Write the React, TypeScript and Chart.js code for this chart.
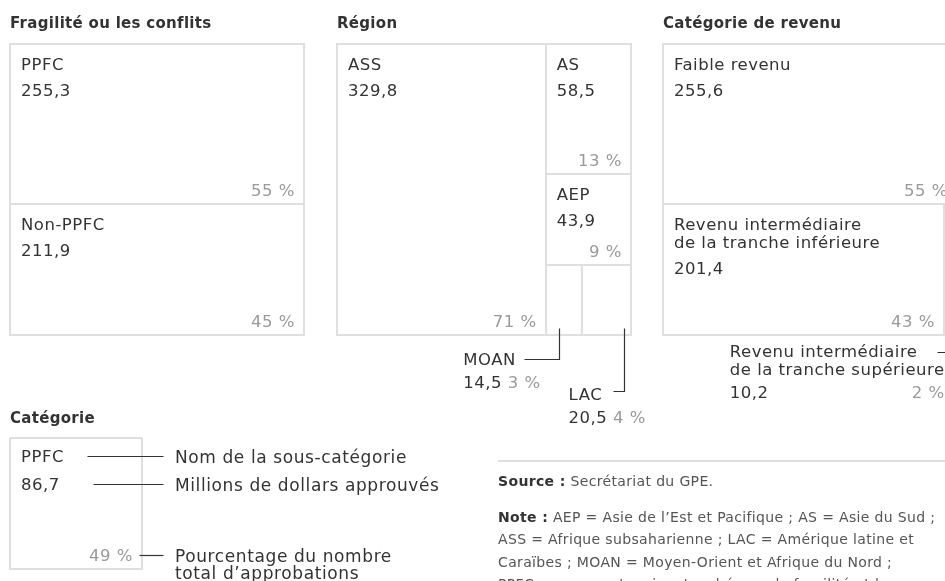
import React, { useEffect, useRef } from "react";
import { Chart, registerables } from "chart.js";

Chart.register(...registerables);

// ---------- data ----------
const PANEL_TITLES = ["Fragilité ou les conflits", "Région", "Catégorie de revenu"];

const FRAG_LABELS = ["PPFC", "Non-PPFC"];
const FRAG_AMOUNTS = [255.3, 211.9];
const FRAG_SHARES = [55, 45];

const REGION_LABELS = ["ASS", "AS", "AEP", "MOAN", "LAC"];
const REGION_AMOUNTS = [329.8, 58.5, 43.9, 14.5, 20.5];
const REGION_SHARES = [71, 13, 9, 3, 4];

const INCOME_LABELS = [
  "Faible revenu",
  "Revenu intermédiaire\nde la tranche inférieure",
  "Revenu intermédiaire\nde la tranche supérieure",
];
const INCOME_AMOUNTS = [255.6, 201.4, 10.2];
const INCOME_SHARES = [55, 43, 2];

const KEY_TITLE = "Catégorie";
const KEY_LABEL = "PPFC";
const KEY_AMOUNT = 86.7;
const KEY_SHARE = 49;
const KEY_TEXTS = [
  "Nom de la sous-catégorie",
  "Millions de dollars approuvés",
  "Pourcentage du nombre\ntotal d’approbations",
];

const SOURCE_BOLD = "Source :";
const SOURCE_TEXT = " Secrétariat du GPE.";
const NOTE_BOLD = "Note :";
const NOTE_LINES = [
  " AEP = Asie de l’Est et Pacifique ; AS = Asie du Sud ;",
  "ASS = Afrique subsaharienne ; LAC = Amérique latine et",
  "Caraïbes ; MOAN = Moyen-Orient et Afrique du Nord ;",
  "PPFC = pays partenaires touchés par la fragilité et les",
  "conflits.",
];

// ---------- styling / layout ----------
const CW = 1000;
const CH = 640;
const ORIGIN = 8;
const FONT = '"DejaVu Sans", sans-serif';
const DARK = "#333333";
const GREY = "#9a9a9a";
const BORDER = "#dfdfdf";
const NOTE_COLOR = "#555555";

const STYLE_CELL = { size: 16.5, weight: "400", spacing: 0.5 };
const STYLE_TITLE = { size: 15, weight: "700", spacing: 0.3 };
const STYLE_KEY = { size: 17, weight: "400", spacing: 0.6 };
const STYLE_NOTE = { size: 14, weight: "400", spacing: 0.35 };
const STYLE_NOTE_B = { size: 14, weight: "700", spacing: 0.35 };

type R = { x0: number; y0: number; x1: number; y1: number };
type Callout = { anchor: number; elbow: number; reach: number; gap: number; labelDy: number; inlinePct: boolean };

const PANELS = [
  {
    title: PANEL_TITLES[0],
    labels: FRAG_LABELS,
    amounts: FRAG_AMOUNTS,
    shares: FRAG_SHARES,
    frame: { x0: 10, y0: 44, x1: 304, y1: 335 },
    splitX: false,
    callouts: {} as Record<number, Callout>,
  },
  {
    title: PANEL_TITLES[1],
    labels: REGION_LABELS,
    amounts: REGION_AMOUNTS,
    shares: REGION_SHARES,
    frame: { x0: 337, y0: 44, x1: 631, y1: 335 },
    splitX: true,
    callouts: {
      3: { anchor: 0.36, elbow: 24, reach: 35, gap: 8, labelDy: 30, inlinePct: true },
      4: { anchor: 0.86, elbow: 56, reach: 11, gap: 11, labelDy: 65, inlinePct: true },
    } as Record<number, Callout>,
  },
  {
    title: PANEL_TITLES[2],
    labels: INCOME_LABELS,
    amounts: INCOME_AMOUNTS,
    shares: INCOME_SHARES,
    frame: { x0: 663, y0: 44, x1: 957, y1: 335 },
    splitX: false,
    callouts: {
      2: { anchor: 0.5, elbow: 17, reach: 13, gap: 20, labelDy: 22, inlinePct: false },
    } as Record<number, Callout>,
  },
];

const KEY_FRAME = { x0: 10, y0: 438, x1: 142, y1: 569 };

function fmt(v: number) {
  return v.toFixed(1).replace(".", ",");
}
function pct(v: number) {
  return v + "\u00a0%";
}

function binaryLayout(values: number[], frame: R, firstSplitX: boolean): R[] {
  const out: R[] = new Array(values.length);
  const rec = (idx: number[], r: R, forced: boolean | null) => {
    if (idx.length === 1) {
      out[idx[0]] = r;
      return;
    }
    const sums = [0];
    idx.forEach((i) => sums.push(sums[sums.length - 1] + values[i]));
    const total = sums[sums.length - 1];
    const target = total / 2;
    let k = 1;
    while (k < idx.length - 1 && sums[k] < target) k++;
    if (k > 1 && target - sums[k - 1] < sums[k] - target) k--;
    const lv = sums[k];
    const splitX = forced === null ? r.x1 - r.x0 > r.y1 - r.y0 : forced;
    const a = idx.slice(0, k);
    const b = idx.slice(k);
    if (splitX) {
      const xk = r.x0 + ((r.x1 - r.x0) * lv) / total;
      rec(a, { ...r, x1: xk }, null);
      rec(b, { ...r, x0: xk }, null);
    } else {
      const yk = r.y0 + ((r.y1 - r.y0) * lv) / total;
      rec(a, { ...r, y1: yk }, null);
      rec(b, { ...r, y0: yk }, null);
    }
  };
  rec(values.map((_, i) => i), frame, firstSplitX);
  return out;
}

const treemapPlugin = {
  id: "treemapPanels",
  afterDraw(chart: any) {
    const ctx: any = chart.ctx;
    const xs = chart.scales.x;
    const ys = chart.scales.y;
    const px = (v: number) => xs.getPixelForValue(v);
    const py = (v: number) => ys.getPixelForValue(v);
    const setStyle = (s: { size: number; weight: string; spacing: number }) => {
      ctx.font = `${s.weight} ${s.size}px ${FONT}`;
      ctx.letterSpacing = `${s.spacing}px`;
    };

    ctx.save();
    ctx.textBaseline = "alphabetic";

    const strokeCell = (r: R) => {
      ctx.strokeStyle = BORDER;
      ctx.lineWidth = 2;
      const x0 = Math.round(px(r.x0));
      const x1 = Math.round(px(r.x1));
      const y0 = Math.round(py(r.y0));
      const y1 = Math.round(py(r.y1));
      ctx.strokeRect(x0, y0, x1 - x0, y1 - y0);
    };

    const innerText = (r: R, label: string, amount: number, share: number, labelDy = 26, valueDy = 26) => {
      const lines = label.split("\n");
      setStyle(STYLE_CELL);
      ctx.fillStyle = DARK;
      ctx.textAlign = "left";
      const by = r.y0 + labelDy;
      lines.forEach((ln, i) => {
        ctx.fillText(ln, px(r.x0 + 11), py(by + i * 18));
      });
      const lastBase = by + (lines.length - 1) * 18;
      ctx.fillText(fmt(amount), px(r.x0 + 11), py(lastBase + valueDy));
      ctx.fillStyle = GREY;
      ctx.textAlign = "right";
      ctx.fillText(pct(share), px(r.x1 - 9), py(r.y1 - 8));
    };

    const leader = (pts: [number, number][]) => {
      ctx.strokeStyle = DARK;
      ctx.lineWidth = 1.2;
      ctx.beginPath();
      pts.forEach(([x, y], i) => {
        const X = Math.round(px(x)) + 0.5;
        const Y = Math.round(py(y)) + 0.5;
        if (i === 0) ctx.moveTo(X, Y);
        else ctx.lineTo(X, Y);
      });
      ctx.stroke();
    };

    // panels
    PANELS.forEach((p) => {
      setStyle(STYLE_TITLE);
      ctx.fillStyle = DARK;
      ctx.textAlign = "left";
      ctx.fillText(p.title, px(p.frame.x0), py(28));

      const rects = binaryLayout(p.shares, p.frame, p.splitX);
      rects.forEach((r) => strokeCell(r));
      rects.forEach((r, i) => {
        const co = p.callouts[i];
        if (!co) {
          innerText(r, p.labels[i], p.amounts[i], p.shares[i]);
          return;
        }
        const vx = r.x0 + co.anchor * (r.x1 - r.x0);
        const ey = r.y1 + co.elbow;
        const hx = vx - co.reach;
        leader([
          [vx, r.y1 - 7],
          [vx, ey],
          [hx, ey],
        ]);
        setStyle(STYLE_CELL);
        const lines = p.labels[i].split("\n");
        const w0 = ctx.measureText(lines[0]).width;
        const maxW = Math.max(...lines.map((l: string) => ctx.measureText(l).width));
        const left = hx - co.gap - w0;
        ctx.fillStyle = DARK;
        ctx.textAlign = "left";
        lines.forEach((ln, j) => ctx.fillText(ln, px(left), py(r.y1 + co.labelDy + j * 18)));
        const vb = r.y1 + co.labelDy + (lines.length - 1) * 18 + 23;
        const amt = fmt(p.amounts[i]);
        ctx.fillText(amt, px(left), py(vb));
        ctx.fillStyle = GREY;
        if (co.inlinePct) {
          const aw = ctx.measureText(amt + " ").width;
          ctx.fillText(pct(p.shares[i]), px(left) + aw, py(vb));
        } else {
          ctx.textAlign = "right";
          ctx.fillText(pct(p.shares[i]), px(left + maxW), py(vb));
        }
      });
    });

    // key
    setStyle(STYLE_TITLE);
    ctx.fillStyle = DARK;
    ctx.textAlign = "left";
    ctx.fillText(KEY_TITLE, px(KEY_FRAME.x0), py(423));
    strokeCell(KEY_FRAME);
    innerText(KEY_FRAME, KEY_LABEL, KEY_AMOUNT, KEY_SHARE, 24, 28);
    const kEnd = KEY_FRAME.x1 + 21;
    const kText = KEY_FRAME.x1 + 33;
    const keyRows = [
      { start: KEY_FRAME.x0 + 77, y: KEY_FRAME.y0 + 18, base: KEY_FRAME.y0 + 25 },
      { start: KEY_FRAME.x0 + 83, y: KEY_FRAME.y0 + 46, base: KEY_FRAME.y0 + 53 },
      { start: KEY_FRAME.x1 - 3, y: KEY_FRAME.y1 - 14, base: KEY_FRAME.y1 - 7 },
    ];
    keyRows.forEach((row, i) => {
      leader([
        [row.start, row.y],
        [kEnd, row.y],
      ]);
      setStyle(STYLE_KEY);
      ctx.fillStyle = DARK;
      ctx.textAlign = "left";
      KEY_TEXTS[i].split("\n").forEach((ln, j) => ctx.fillText(ln, px(kText), py(row.base + j * 17)));
    });

    // source / note
    ctx.strokeStyle = BORDER;
    ctx.lineWidth = 2;
    ctx.beginPath();
    ctx.moveTo(px(498), Math.round(py(461)));
    ctx.lineTo(px(CW + ORIGIN), Math.round(py(461)));
    ctx.stroke();

    const noteX = 498;
    ctx.textAlign = "left";
    setStyle(STYLE_NOTE_B);
    ctx.fillStyle = DARK;
    ctx.fillText(SOURCE_BOLD, px(noteX), py(486));
    let bw = ctx.measureText(SOURCE_BOLD).width;
    setStyle(STYLE_NOTE);
    ctx.fillStyle = NOTE_COLOR;
    ctx.fillText(SOURCE_TEXT, px(noteX) + bw, py(486));

    setStyle(STYLE_NOTE_B);
    ctx.fillStyle = DARK;
    ctx.fillText(NOTE_BOLD, px(noteX), py(522));
    bw = ctx.measureText(NOTE_BOLD).width;
    setStyle(STYLE_NOTE);
    ctx.fillStyle = NOTE_COLOR;
    NOTE_LINES.forEach((ln, i) => {
      ctx.fillText(ln, px(noteX) + (i === 0 ? bw : 0), py(522 + i * 22.3));
    });

    ctx.letterSpacing = "0px";
    ctx.restore();
  },
};

export default function App() {
  const ref = useRef<HTMLCanvasElement | null>(null);
  useEffect(() => {
    if (!ref.current) return;
    const chart = new Chart(ref.current, {
      type: "scatter",
      data: { datasets: [{ data: [] }] },
      options: {
        animation: false,
        responsive: false,
        events: [],
        layout: { padding: 0 },
        plugins: {
          legend: { display: false },
          tooltip: { enabled: false },
          title: { display: false },
        },
        scales: {
          x: { type: "linear", display: false, min: ORIGIN, max: ORIGIN + CW },
          y: { type: "linear", display: false, min: ORIGIN, max: ORIGIN + CH, reverse: true },
        },
      },
      plugins: [treemapPlugin],
    });
    return () => chart.destroy();
  }, []);
  return (
    <div
      style={{
        position: "fixed",
        left: ORIGIN,
        top: ORIGIN,
        width: 945 - ORIGIN,
        height: 581 - ORIGIN,
        overflow: "hidden",
        background: "#ffffff",
      }}
    >
      <canvas ref={ref} width={CW} height={CH} style={{ display: "block", width: CW, height: CH }} />
    </div>
  );
}
